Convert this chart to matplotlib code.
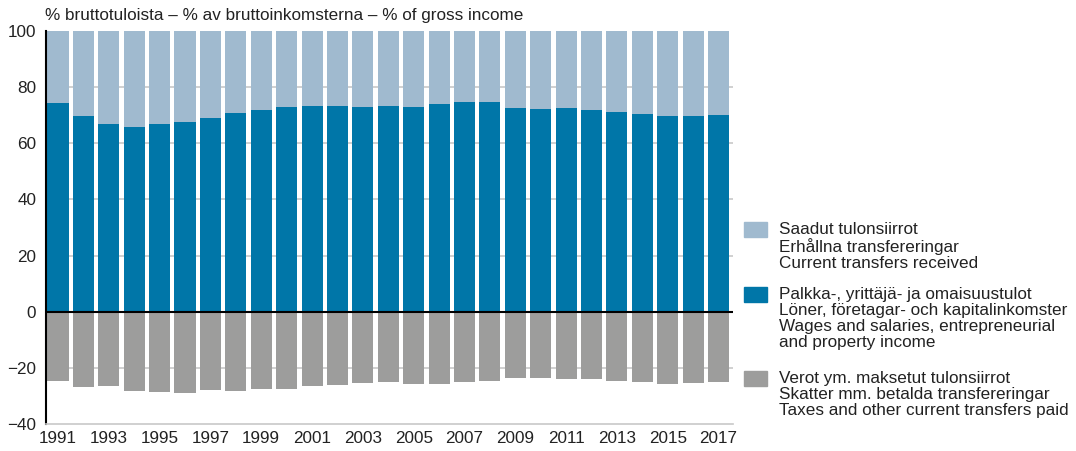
import numpy as np
import matplotlib.pyplot as plt
from matplotlib.patches import Rectangle

plt.rcParams['font.family'] = ['Liberation Sans', 'DejaVu Sans']

years = list(range(1991, 2018))
wages = [74.4, 69.8, 67.0, 65.9, 67.0, 67.7, 69.1, 70.8, 71.9, 73.0,
         73.4, 73.4, 73.0, 73.4, 73.1, 74.1, 74.8, 74.8, 72.6, 72.3,
         72.6, 71.9, 71.0, 70.5, 69.8, 69.8, 70.2]
received = [25.6, 30.2, 33.0, 34.1, 33.0, 32.3, 30.9, 29.2, 28.1, 27.0,
            26.6, 26.6, 27.0, 26.6, 26.9, 25.9, 25.2, 25.2, 27.4, 27.7,
            27.4, 28.1, 29.0, 29.5, 30.2, 30.2, 29.8]
taxes = [-24.6, -26.9, -26.6, -28.2, -28.5, -28.8, -27.8, -28.1, -27.7, -27.7,
         -26.6, -26.0, -25.3, -25.0, -25.6, -25.7, -25.0, -24.6, -23.6, -23.8,
         -23.9, -24.1, -24.6, -25.2, -25.6, -25.3, -25.0]

legend_labels = [
    "Saadut tulonsiirrot\nErhållna transfereringar\nCurrent transfers received",
    "Palkka-, yrittäjä- ja omaisuustulot\nLöner, företagar- och kapitalinkomster\n"
    "Wages and salaries, entrepreneurial\nand property income",
    "Verot ym. maksetut tulonsiirrot\nSkatter mm. betalda transfereringar\n"
    "Taxes and other current transfers paid",
]

c_light = '#a0bacf'
c_blue = '#0076a8'
c_grey = '#9d9d9c'
txt = '#222222'
fs = 12.3

fig = plt.figure(figsize=(10.76, 4.51), dpi=100)
ax = fig.add_axes([0.0428, 0.06, 0.638, 0.871])

x = np.array(years)
w = 0.83
ax.bar(x, wages, width=w, color=c_blue, zorder=2)
ax.bar(x, received, width=w, bottom=wages, color=c_light, zorder=2)
ax.bar(x, taxes, width=w, color=c_grey, zorder=2)

ax.set_ylim(-40, 100)
ax.set_xlim(1991 - 0.47, 2017 + 0.55)
ax.set_yticks(range(-40, 101, 20))
ax.set_xticks(years[::2])
ax.tick_params(length=0, labelsize=fs, colors=txt)
ax.tick_params(axis='y', pad=7)
ax.tick_params(axis='x', pad=5)

for v in [-20, 20, 40, 60, 80]:
    ax.axhline(v, color='#c8c8c8', lw=1.2, zorder=1)
ax.axhline(0, color='black', lw=1.5, zorder=3)

for s in ['top', 'right']:
    ax.spines[s].set_visible(False)
ax.spines['bottom'].set_color('#c8c8c8')
ax.spines['bottom'].set_linewidth(1.2)
ax.spines['left'].set_color('black')
ax.spines['left'].set_linewidth(1.5)

fig.text(0.042, 0.966, "% bruttotuloista – % av bruttoinkomsterna – % of gross income",
         fontsize=fs, color=txt, va='center', ha='left')

# legend drawn by hand so the swatch lines up with the first text line
colors = [c_light, c_blue, c_grey]
tops = [1 - 222 / 451, 1 - 287 / 451, 1 - 371 / 451]
for col, top, lab in zip(colors, tops, legend_labels):
    fig.patches.append(Rectangle((0.6914, top - 0.0333), 0.0214, 0.0333,
                                 transform=fig.transFigure, color=col))
    fig.text(0.724, top + 0.001, lab, fontsize=fs, color=txt, va='top', ha='left',
             linespacing=1.1)

fig.savefig('out.png', dpi=100)
